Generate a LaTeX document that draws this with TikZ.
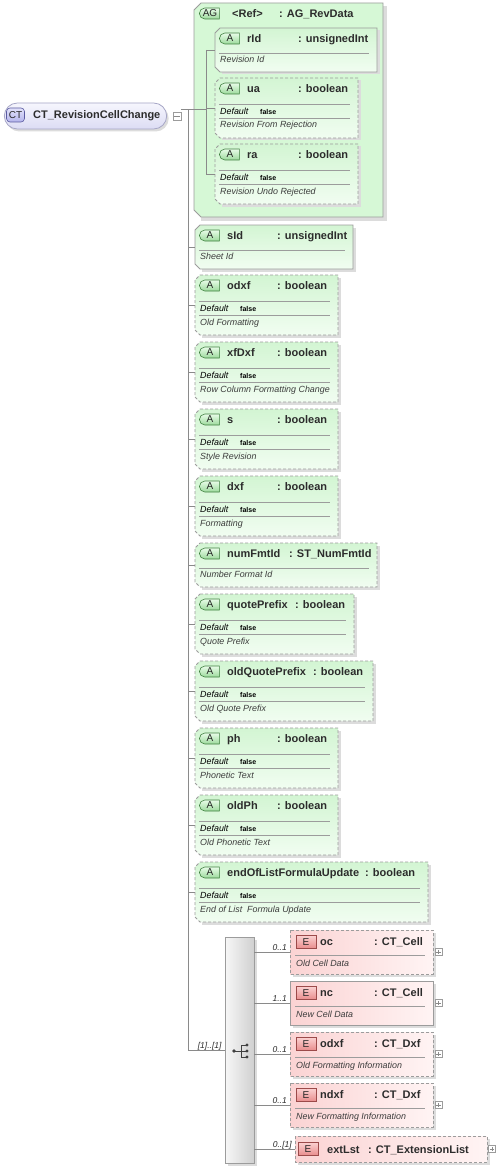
\documentclass[tikz,border=0pt]{standalone}
\usepackage{fontspec}
\setmainfont{Liberation Sans}
\usetikzlibrary{shapes.misc}

\definecolor{lineC}{HTML}{8A8A8A}
\definecolor{bordC}{HTML}{9C9C9C}
\definecolor{shadC}{HTML}{DCDCDC}
\definecolor{agFill}{HTML}{D6F8D6}
\definecolor{atTop}{HTML}{D3F5D3}
\definecolor{atBot}{HTML}{F1FDF1}
\definecolor{bgAa}{HTML}{E8FCE8}
\definecolor{bgAz}{HTML}{9CDA9C}
\definecolor{bgAb}{HTML}{3F7F3F}
\definecolor{elL}{HTML}{FBD3D3}
\definecolor{elR}{HTML}{FFF4F4}
\definecolor{bgEa}{HTML}{FBD0D0}
\definecolor{bgEz}{HTML}{E88C8C}
\definecolor{bgEb}{HTML}{9C4A4A}
\definecolor{ctL}{HTML}{F6F6FD}
\definecolor{ctR}{HTML}{DCDCF4}
\definecolor{ctB}{HTML}{A6A6C6}
\definecolor{bgCa}{HTML}{E2E2FA}
\definecolor{bgCz}{HTML}{B4B4EC}
\definecolor{bgCb}{HTML}{5A5AA0}
\definecolor{txtC}{HTML}{2C2C2C}
\definecolor{descC}{HTML}{3C3C3C}
\definecolor{seqL}{HTML}{F7F7F7}
\definecolor{seqR}{HTML}{D0D0D0}
\definecolor{iconC}{HTML}{404040}

\tikzset{
  conn/.style={draw=lineC, line width=0.7pt},
  ttl/.style={anchor=base west, inner sep=0pt, text=txtC, font=\bfseries\fontsize{11}{13}\selectfont},
  desc/.style={anchor=base west, inner sep=0pt, text=descC, font=\itshape\fontsize{8.9}{10}\selectfont},
  defl/.style={anchor=base west, inner sep=0pt, text=black, font=\itshape\fontsize{8.9}{10}\selectfont},
  defv/.style={anchor=base west, inner sep=0pt, text=black, font=\bfseries\fontsize{7}{8}\selectfont},
  card/.style={anchor=base east, inner sep=0pt, text=txtC, font=\itshape\fontsize{8.5}{9}\selectfont},
  sepl/.style={draw=bordC, line width=0.6pt},
  solidb/.style={draw=bordC, line width=0.8pt},
  dashb/.style={draw=bordC, line width=0.8pt, dash pattern=on 3pt off 2pt},
  badgeA/.style={rounded rectangle, rounded rectangle east arc=none, minimum width=20pt, minimum height=11pt, inner sep=0pt, draw=bgAb, line width=0.6pt, top color=bgAa, bottom color=bgAz, text=black!85, font=\fontsize{10}{11}\selectfont},
  badgeE/.style={rectangle, minimum width=20pt, minimum height=13pt, inner sep=0pt, draw=bgEb, line width=0.6pt, top color=bgEa, bottom color=bgEz, text=black!85, font=\fontsize{10}{11}\selectfont},
  pm/.style={rectangle, draw=bordC, line width=0.5pt, fill=white, minimum size=7pt, inner sep=0pt},
  pmsign/.style={draw=lineC, line width=0.5pt},
}

% chamfered attribute shape: name, left, top, right, bottom, border style
\newcommand\chamf[6]{%
  \fill[shadC] (#2+7,#3+2.5) -- (#4+2.5,#3+2.5) -- (#4+2.5,#5+2.5) -- (#2+7,#5+2.5) -- cycle;
  \path[#6, top color=atTop, bottom color=atBot] (#2+5,#3) -- (#4,#3) -- (#4,#5) -- (#2+5,#5) -- (#2,#5-5) -- (#2,#3+5) -- cycle;
  \coordinate (#1) at (#2,{(#3+#5)/2});
}

% attribute with default: name, left, top, right, style, title, typex, type, desc
\newcommand\AttrD[9]{%
  \chamf{#1}{#2}{#3}{#4}{#3+60}{#5}
  \node[badgeA] (#1-b) at (#2+15,#3+10.5) {A};
  \node[ttl] (#1-n) at (#2+32,#3+14.5) {#6};
  \node[ttl] (#1-t) at (#7,#3+14.5) {#8};
  \draw[sepl] (#2+4,#3+26) -- (#4-8,#3+26);
  \node[defl] (#1-d) at (#2+5,#3+36.5) {Default};
  \node[defv] (#1-v) at (#2+45,#3+36.5) {false};
  \draw[sepl] (#2+4,#3+40) -- (#4-8,#3+40);
  \node[desc] (#1-x) at (#2+5,#3+50) {#9};
}

% attribute without default
\newcommand\AttrN[9]{%
  \chamf{#1}{#2}{#3}{#4}{#3+44}{#5}
  \node[badgeA] (#1-b) at (#2+15,#3+10.5) {A};
  \node[ttl] (#1-n) at (#2+32,#3+14.5) {#6};
  \node[ttl] (#1-t) at (#7,#3+14.5) {#8};
  \draw[sepl] (#2+4,#3+25) -- (#4-8,#3+25);
  \node[desc] (#1-x) at (#2+5,#3+34.5) {#9};
}

% element: name, left, top, right, style, title, typex, type, desc
\newcommand\Elem[9]{%
  \fill[shadC] (#2+2.5,#3+2.5) rectangle (#4+2.5,#3+46.5);
  \path[#5, left color=elL, right color=elR] (#2,#3) rectangle (#4,#3+44);
  \coordinate (#1) at (#2,#3+22);
  \node[badgeE] (#1-b) at (#2+16,#3+12) {E};
  \node[ttl] (#1-n) at (#2+30,#3+15) {#6};
  \node[ttl] (#1-t) at (#7,#3+15) {#8};
  \draw[sepl] (#2+5,#3+25) -- (#4-8,#3+25);
  \node[desc] (#1-x) at (#2+6,#3+36) {#9};
  \node[pm] (#1-p) at (#4+5.5,#3+22) {};
  \draw[pmsign] ([xshift=1.5pt]#1-p.west) -- ([xshift=-1.5pt]#1-p.east);
  \draw[pmsign] ([yshift=-1.5pt]#1-p.north) -- ([yshift=1.5pt]#1-p.south);
}

\begin{document}
\begin{tikzpicture}[x=1pt,y=-1pt]
\fill[white] (0,0) rectangle (497,1169);
\useasboundingbox (0,0) rectangle (497,1169);

% ---- root complex type ----
\node[rounded rectangle, minimum width=169pt, minimum height=26pt, fill=shadC] at (87.5,118.5) {};
\node[rounded rectangle, minimum width=169pt, minimum height=26pt, draw=ctB, line width=0.8pt, top color=ctL, bottom color=ctR] (ct) at (85.5,116) {};
\node[rectangle, rounded corners=3.5pt, minimum width=18pt, minimum height=14pt, inner sep=0pt, draw=bgCb, line width=0.6pt, top color=bgCa, bottom color=bgCz, text=black!85, font=\fontsize{10}{11}\selectfont] (ctb) at (15.5,115) {CT};
\node[ttl] (ctn) at (33,119) {CT\_RevisionCellChange};
\node[pm, minimum size=8pt] (ctm) at (177,116) {};
\draw[pmsign] ([xshift=1.5pt]ctm.west) -- ([xshift=-1.5pt]ctm.east);
\coordinate (ctout) at (181,109);
\coordinate (spTop) at (188,109);
\coordinate (spBot) at (188,1050);

% ---- attribute group ----
\fill[shadC] (201,6.5) rectangle (386.5,220.5);
\path[solidb, fill=agFill] (201,3) -- (383,3) -- (383,217) -- (201,217) -- (194,210) -- (194,10) -- cycle;
\coordinate (ag) at (194,109);
\coordinate (agIn) at (206,109);
\node[badgeA] (agb) at (210,13.5) {AG};
\node[ttl] (agn) at (232,18) {<Ref>};
\node[ttl] (agt) at (279,18) {: AG\_RevData};

\AttrN{a-rId}{215}{28}{377}{solidb}{rId}{298}{: unsignedInt}{Revision Id}
\AttrD{a-ua}{215}{78}{358}{dashb}{ua}{298}{: boolean}{Revision From Rejection}
\AttrD{a-ra}{215}{144}{358}{dashb}{ra}{298}{: boolean}{Revision Undo Rejected}

\draw[conn] (ag) -- (agIn);
\draw[conn] (a-rId -| agIn) -- (a-ra -| agIn);
\foreach \n in {a-rId,a-ua,a-ra} \draw[conn] (agIn |- \n) -- (\n);

% ---- attributes ----
\AttrN{a-sId}{195}{225}{353}{solidb}{sId}{277}{: unsignedInt}{Sheet Id}
\AttrD{a-odxf}{195}{275}{338}{dashb}{odxf}{277}{: boolean}{Old Formatting}
\AttrD{a-xfDxf}{195}{342}{338}{dashb}{xfDxf}{277}{: boolean}{Row Column Formatting Change}
\AttrD{a-s}{195}{409}{338}{dashb}{s}{277}{: boolean}{Style Revision}
\AttrD{a-dxf}{195}{476}{338}{dashb}{dxf}{277}{: boolean}{Formatting}
\AttrN{a-numFmtId}{195}{543}{377}{dashb}{numFmtId}{289}{: ST\_NumFmtId}{Number Format Id}
\AttrD{a-quotePrefix}{195}{594}{354}{dashb}{quotePrefix}{295}{: boolean}{Quote Prefix}
\AttrD{a-oldQuotePrefix}{195}{661}{373}{dashb}{oldQuotePrefix}{313}{: boolean}{Old Quote Prefix}
\AttrD{a-ph}{195}{728}{338}{dashb}{ph}{277}{: boolean}{Phonetic Text}
\AttrD{a-oldPh}{195}{795}{338}{dashb}{oldPh}{277}{: boolean}{Old Phonetic Text}
\AttrD{a-eol}{195}{862}{428}{dashb}{endOfListFormulaUpdate}{365}{: boolean}{End of List\ \ Formula Update}

% ---- sequence ----
\fill[shadC] (227.5,939.5) rectangle (256.5,1165.5);
\node[rectangle, draw=bordC, line width=0.7pt, left color=seqL, right color=seqR, minimum width=29pt, minimum height=226pt, inner sep=0pt] (seq) at (239.5,1050) {};
\draw[iconC, line width=0.8pt] (234,1051) -- (241,1051) (241,1045) -- (241,1057) (241,1045) -- (247,1045) (241,1051) -- (247,1051) (241,1057) -- (247,1057);
\fill[iconC] (234,1051) circle (1.8pt) (247,1045) circle (1.7pt) (247,1051) circle (1.7pt) (247,1057) circle (1.7pt);

% ---- elements ----
\Elem{e-oc}{290}{930}{433}{dashb}{oc}{374}{: CT\_Cell}{Old Cell Data}
\Elem{e-nc}{290}{981}{433}{solidb}{nc}{374}{: CT\_Cell}{New Cell Data}
\Elem{e-odxf}{290}{1032}{433}{dashb}{odxf}{374}{: CT\_Dxf}{Old Formatting Information}
\Elem{e-ndxf}{290}{1083}{433}{dashb}{ndxf}{374}{: CT\_Dxf}{New Formatting Information}

\fill[shadC] (297.5,1138.5) rectangle (489.5,1164.5);
\path[dashb, left color=elL, right color=elR] (295,1136) rectangle (487,1162);
\coordinate (e-ext) at (295,1149);
\node[badgeE] (e-ext-b) at (308,1149) {E};
\node[ttl] (e-ext-n) at (327,1153) {extLst};
\node[ttl] (e-ext-t) at (368,1153) {: CT\_ExtensionList};
\node[pm] (e-ext-p) at (492,1149) {};
\draw[pmsign] ([xshift=1.5pt]e-ext-p.west) -- ([xshift=-1.5pt]e-ext-p.east);
\draw[pmsign] ([yshift=-1.5pt]e-ext-p.north) -- ([yshift=1.5pt]e-ext-p.south);

% ---- connectors ----
\draw[conn] (ctout) -- (spTop) -- (spBot) -- (seq.west |- spBot);
\draw[conn] (spTop |- ag) -- (ag);
\foreach \n in {a-sId,a-odxf,a-xfDxf,a-s,a-dxf,a-numFmtId,a-quotePrefix,a-oldQuotePrefix,a-ph,a-oldPh,a-eol}
  \draw[conn] (spTop |- \n) -- (\n);
\foreach \n in {e-oc,e-nc,e-odxf,e-ndxf,e-ext}
  \draw[conn] (seq.east |- \n) -- (\n);

\node[card] (c-seq) at ([xshift=-3pt,yshift=2pt]seq.west) {[1]..[1]};
\node[card] (c-oc) at ([xshift=-3pt,yshift=2pt]e-oc) {0..1};
\node[card] (c-nc) at ([xshift=-3pt,yshift=2pt]e-nc) {1..1};
\node[card] (c-odxf) at ([xshift=-3pt,yshift=2pt]e-odxf) {0..1};
\node[card] (c-ndxf) at ([xshift=-3pt,yshift=2pt]e-ndxf) {0..1};
\node[card] (c-ext) at ([xshift=-3pt,yshift=2pt]e-ext) {0..[1]};
\end{tikzpicture}
\end{document}
